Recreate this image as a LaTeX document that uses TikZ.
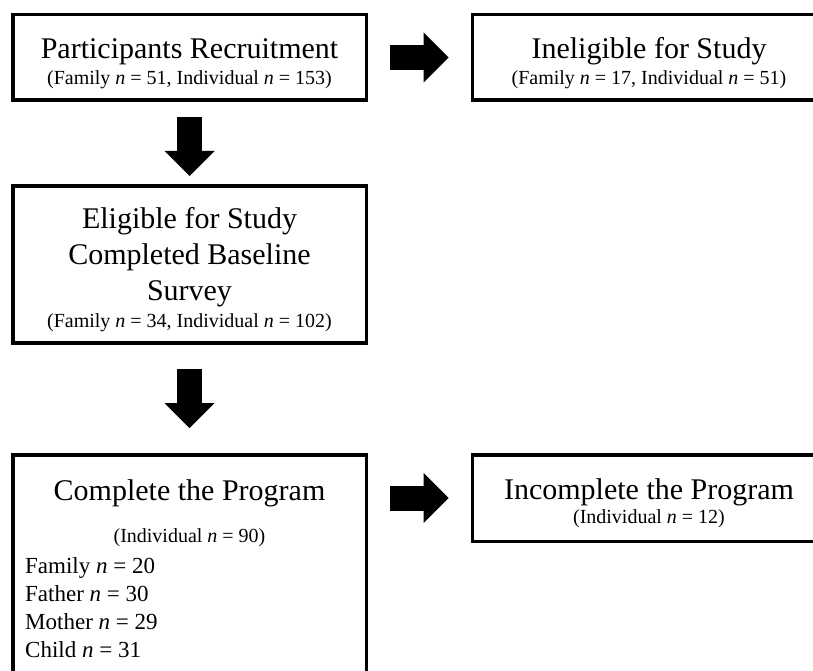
\documentclass[tikz,border=0pt]{standalone}
\usepackage{fontspec}
\setmainfont{Liberation Serif}
\usetikzlibrary{arrows.meta}

\newcommand{\subsize}{\fontsize{20}{24}\selectfont}
\newcommand{\toppad}{\rule{0pt}{32pt}}

\begin{document}
\begin{tikzpicture}[x=1pt,y=-1pt,
box/.style={draw,line width=3.5pt,inner sep=0pt,align=center,
  minimum width=353.5pt,font=\fontsize{30}{36}\selectfont},
flow/.style={line width=25pt,-{Triangle[length=25pt,width=50pt,line width=0pt]}},
item/.style={anchor=base west,inner sep=0pt,font=\fontsize{23}{28}\selectfont}
]
\clip (0,0) rectangle (813,671);
\node[box,minimum height=85.5pt] (recruit) at (189.5,57.5)
  {\toppad Participants Recruitment\\[-10pt]{\subsize (Family \textit{n} = 51, Individual \textit{n} = 153)}};
\node[box,minimum height=85.5pt] (ineligible) at (649,57.5)
  {\toppad Ineligible for Study\\[-10pt]{\subsize (Family \textit{n} = 17, Individual \textit{n} = 51)}};
\node[box,minimum height=157pt] (eligible) at (189.5,264.25)
  {\toppad Eligible for Study\\Completed Baseline\\Survey\\[-9pt]{\subsize (Family \textit{n} = 34, Individual \textit{n} = 102)}};
\node[box,minimum height=243.5pt] (complete) at (189.5,576.5) {};
\node[box,minimum height=86.5pt] (incomplete) at (649,498)
  {\toppad Incomplete the Program\\[-12pt]{\subsize (Individual \textit{n} = 12)}};

\node[anchor=base,inner sep=0pt,font=\fontsize{30}{36}\selectfont] (completetitle) at (189.5,500) {Complete the Program};
\node[anchor=base,inner sep=0pt,font=\subsize] (completesub) at (189.5,542) {(Individual \textit{n} = 90)};
\foreach \who/\num [count=\i] in {Family/20,Father/30,Mother/29,Child/31}
  \node[item] (member\i) at (25,545+28*\i) {\who{} \textit{n} = \num};

\draw[flow,shorten <=22pt,shorten >=22pt] (recruit.east) -- (ineligible.west);
\draw[flow,shorten <=15.5pt,shorten >=8pt] (recruit.south) -- (eligible.north);
\draw[flow,shorten <=24.5pt,shorten >=25pt] (eligible.south) -- (complete.north);
\draw[flow,shorten <=22pt,shorten >=22pt] (complete.east |- incomplete.west) -- (incomplete.west);
\end{tikzpicture}
\end{document}
